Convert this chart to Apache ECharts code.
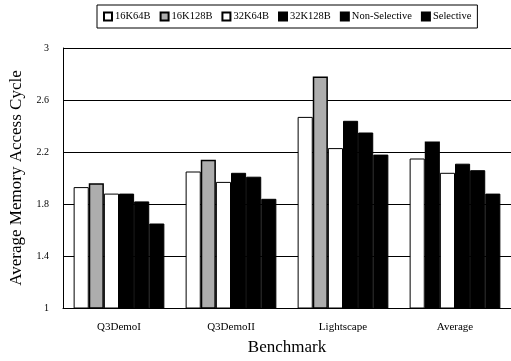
<!DOCTYPE html>
<html>
<head>
<meta charset="utf-8">
<script src="https://cdn.jsdelivr.net/npm/echarts@6/dist/echarts.min.js"></script>
<style>html,body{margin:0;padding:0;background:#fff}#c{width:511px;height:361px}</style>
</head>
<body>
<div id="c"></div>
<script>
var categories = ['Q3DemoI', 'Q3DemoII', 'Lightscape', 'Average'];
var seriesNames = ['16K64B', '16K128B', '32K64B', '32K128B', 'Non-Selective', 'Selective'];
var s16K64B = [1.93, 2.05, 2.47, 2.15];
var s16K128B = [1.96, 2.14, 2.78, 2.28];
var s32K64B = [1.88, 1.97, 2.23, 2.04];
var s32K128B = [1.88, 2.04, 2.44, 2.11];
var sNonSelective = [1.82, 2.01, 2.35, 2.06];
var sSelective = [1.65, 1.84, 2.18, 1.88];
var yTicks = [1, 1.4, 1.8, 2.2, 2.6, 3];

var FONT = 'Liberation Serif';
var white = {color: '#fff', borderColor: '#000', borderWidth: 1};
var gray = {color: '#adadad', borderColor: '#000', borderWidth: 1.5};
var black = {color: '#000', borderColor: '#000', borderWidth: 1};

function mk(name, data, style) {
  return {
    name: name, type: 'bar', data: data, itemStyle: style,
    barGap: '0%', barCategoryGap: '19%', emphasis: {disabled: true}
  };
}
// the 16K128B bar for "Average" is drawn solid black in the reference
var s16K128BData = s16K128B.map(function (v, i) {
  return i === 3 ? {value: v, itemStyle: {color: '#000', borderColor: '#000'}} : v;
});

var chart = echarts.init(document.getElementById('c'), null, {renderer: 'canvas'});
chart.setOption({
  animation: false,
  backgroundColor: '#fff',
  textStyle: {fontFamily: FONT, color: '#000'},
  legend: {
    left: 97, top: 5,
    padding: [6, 6, 6, 6],
    borderColor: '#000', borderWidth: 1,
    itemWidth: 8, itemHeight: 8, itemGap: 9,
    icon: 'rect',
    textStyle: {fontFamily: FONT, fontSize: 10.5, color: '#000', padding: [0, 0, 0, -2]},
    data: seriesNames
  },
  grid: {left: 60, top: 48, width: 454, height: 260, containLabel: false},
  xAxis: {
    type: 'category', data: categories,
    name: 'Benchmark', nameLocation: 'middle', nameGap: 31,
    nameTextStyle: {fontFamily: FONT, fontSize: 17, color: '#000'},
    axisLine: {lineStyle: {color: '#000', width: 1}},
    axisTick: {show: false},
    axisLabel: {fontFamily: FONT, fontSize: 11, color: '#000', margin: 14}
  },
  yAxis: {
    type: 'value', min: yTicks[0], max: yTicks[yTicks.length - 1], interval: 0.4,
    name: 'Average Memory Access Cycle', nameLocation: 'middle', nameGap: 38,
    nameTextStyle: {fontFamily: FONT, fontSize: 17, color: '#000'},
    axisLine: {show: true, lineStyle: {color: '#000', width: 1}},
    axisTick: {show: false},
    splitLine: {lineStyle: {color: '#000', width: 1}},
    axisLabel: {fontFamily: FONT, fontSize: 10, color: '#000', margin: 14}
  },
  series: [
    mk(seriesNames[0], s16K64B, white),
    mk(seriesNames[1], s16K128BData, gray),
    mk(seriesNames[2], s32K64B, white),
    mk(seriesNames[3], s32K128B, black),
    mk(seriesNames[4], sNonSelective, black),
    mk(seriesNames[5], sSelective, black)
  ]
});
</script>
</body>
</html>
